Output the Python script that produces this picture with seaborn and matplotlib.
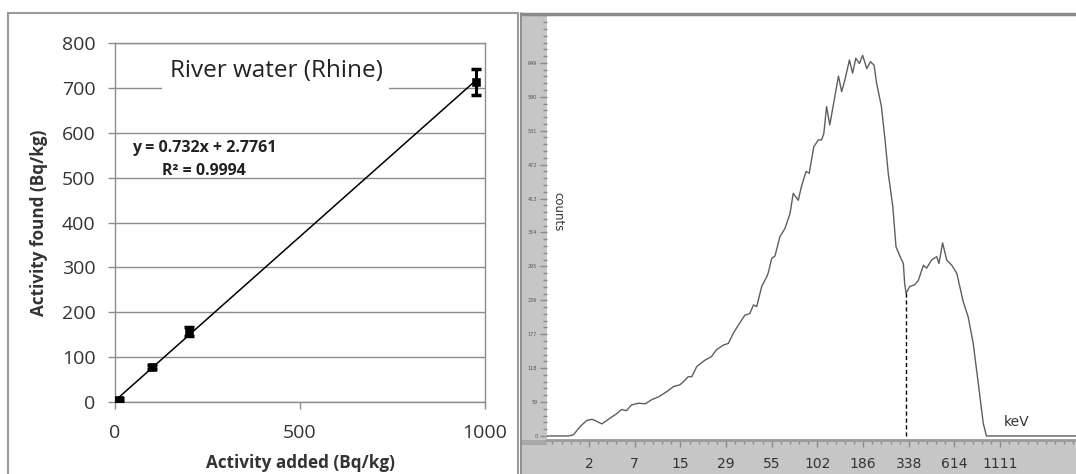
import matplotlib
matplotlib.use("Agg")
import matplotlib.pyplot as plt
import seaborn as sns
import pandas as pd
from matplotlib.patches import Rectangle
from matplotlib.lines import Line2D
from matplotlib.ticker import MultipleLocator, FixedLocator

# ---- left panel: standard addition
ADDED = [10, 100, 200, 977]
FOUND = [5, 78, 158, 713]
FOUND_ERR = [3, 4, 10, 29]
SLOPE = 0.732
INTERCEPT = 2.7761
FIT_X = [0, 977]
LEFT_TITLE = "River water (Rhine)"
EQ_TEXT = "y = 0.732x + 2.7761\nR² = 0.9994"

# ---- right panel: spectrum (x in tick-index units, ticks 0..9)
KEV_LABELS = ["2", "7", "15", "29", "55", "102", "186", "338", "614", "1111"]
COUNT_TICKS = [0, 59, 118, 177, 236, 295, 354, 413, 472, 531, 590, 649]
SPEC_POS = [-0.92, -0.45, -0.34, -0.20, -0.05, 0.06, 0.13, 0.28, 0.46, 0.61, 0.71, 0.82,
            0.93, 1.08, 1.23, 1.37, 1.52, 1.70, 1.85, 1.99, 2.10, 2.17, 2.25, 2.36,
            2.54, 2.68, 2.79, 2.94, 3.05, 3.16, 3.27, 3.41, 3.52, 3.60, 3.67, 3.78,
            3.89, 3.92, 4.00, 4.07, 4.18, 4.29, 4.40, 4.47, 4.58, 4.65, 4.75, 4.82,
            4.92, 5.02, 5.09, 5.14, 5.20, 5.27, 5.38, 5.46, 5.53, 5.60, 5.70, 5.77,
            5.84, 5.92, 5.99, 6.08, 6.16, 6.24, 6.29, 6.40, 6.48, 6.55, 6.65, 6.72,
            6.81, 6.88, 6.91, 6.94, 7.02, 7.13, 7.21, 7.32, 7.39, 7.50, 7.61, 7.66,
            7.74, 7.83, 7.94, 8.05, 8.19, 8.30, 8.41, 8.52, 8.63, 8.70, 10.66]
SPEC_COUNTS = [0, 0, 2, 16, 27, 29, 27, 21, 31, 39, 46, 44,
               54, 57, 56, 63, 68, 77, 86, 89, 97, 103, 103, 121,
               132, 138, 150, 158, 161, 179, 193, 210, 213, 228, 225, 260,
               277, 283, 309, 313, 347, 361, 387, 422, 410, 434, 460, 457,
               503, 515, 515, 526, 573, 541, 590, 626, 599, 619, 654, 631,
               657, 648, 662, 639, 651, 645, 616, 573, 515, 457, 399, 329,
               312, 300, 265, 248, 260, 263, 271, 297, 292, 306, 312, 300,
               336, 306, 297, 283, 234, 207, 161, 92, 22, 0, 0]
CUT_POS = 6.94
CUT_COUNT = 248

W, H = 1076, 474
sns.set_theme(style="white")
plt.rcParams["font.family"] = ["Open Sans", "DejaVu Sans"]

fig = plt.figure(figsize=(W / 100, H / 100), dpi=100)


def px_rect(x0, y0, x1, y1):
    return [x0 / W, 1 - y1 / H, (x1 - x0) / W, (y1 - y0) / H]


def fig_box(x0, y0, x1, y1, **kw):
    fig.patches.append(Rectangle((x0 / W, 1 - y1 / H), (x1 - x0) / W, (y1 - y0) / H,
                                 transform=fig.transFigure, zorder=-1, **kw))


# panel frames and grey strips
fig_box(8, 13, 518, 480, fill=False, edgecolor="#9a9a9a", lw=1.5)
fig_box(522, 14, 547, 474, facecolor="#c6c6c6", edgecolor="none")
fig_box(522, 440, W, 474, facecolor="#c6c6c6", edgecolor="none")
fig_box(522, 440, 547, 445, facecolor="#a8a8a8", edgecolor="none")
fig.lines.append(Line2D([521 / W, 521 / W], [0, 1 - 13 / H], transform=fig.transFigure,
                        color="#7a7a7a", lw=1.2))
fig.lines.append(Line2D([521 / W, 1], [1 - 14 / H, 1 - 14 / H], transform=fig.transFigure,
                        color="#8a8a8a", lw=2.5))

# ---- left chart
ax = fig.add_axes(px_rect(115, 43, 485, 402))
ax.set_xlim(0, 1000)
ax.set_ylim(0, 800)
ax.yaxis.set_major_locator(MultipleLocator(100))
ax.xaxis.set_major_locator(MultipleLocator(500))
ax.grid(axis="y", color="#8c8c8c", lw=1.0)
ax.set_axisbelow(True)
for s in ax.spines.values():
    s.set_visible(True)
    s.set_color("#8c8c8c")
    s.set_linewidth(1.0)
ax.tick_params(axis="both", direction="out", length=5, width=1.0, color="#8c8c8c",
               labelsize=14, labelcolor="#333333", bottom=True, left=True)
ax.tick_params(axis="y", pad=9)
ax.tick_params(axis="x", pad=11)

fit_df = pd.DataFrame({"x": FIT_X, "y": [SLOPE * v + INTERCEPT for v in FIT_X]})
sns.lineplot(data=fit_df, x="x", y="y", ax=ax, color="black", lw=1.1)
ax.errorbar(ADDED, FOUND, yerr=FOUND_ERR, fmt="none", ecolor="black", elinewidth=2.2,
            capsize=3.5, capthick=2.5, zorder=4)
pts = pd.DataFrame({"added": ADDED, "found": FOUND})
sns.scatterplot(data=pts, x="added", y="found", ax=ax, marker="s", s=28, color="black",
                edgecolor="black", zorder=5)
ax.text(435, 738, LEFT_TITLE, ha="center", va="center", fontsize=17.5, color="#222222",
        bbox=dict(facecolor="white", edgecolor="none", pad=5), zorder=3)
ax.text(240, 541, EQ_TEXT, ha="center", va="center", fontsize=11.5, fontweight="bold",
        color="#222222", linespacing=1.55, zorder=3)
ax.set_xlabel("Activity added (Bq/kg)", fontsize=12.3, fontweight="bold", color="#333333",
              labelpad=8.5)
ax.set_ylabel("Activity found (Bq/kg)", fontsize=12.3, fontweight="bold", color="#333333",
              labelpad=10)

# ---- right chart: spectrum
bx = fig.add_axes(px_rect(547, 14, W, 440))
bx.set_facecolor("white")
spec = pd.DataFrame({"pos": SPEC_POS, "counts": SPEC_COUNTS})
sns.lineplot(data=spec, x="pos", y="counts", ax=bx, color="#5e5e5e", lw=1.0,
             sort=False, estimator=None)
bx.plot([CUT_POS, CUT_POS], [0, CUT_COUNT], color="black", lw=1.0, ls=(0, (3, 2)))
bx.set_xlim(-0.92, 10.66)
bx.set_ylim(-7, 734)
bx.xaxis.set_major_locator(FixedLocator(range(len(KEV_LABELS))))
bx.set_xticklabels(KEV_LABELS)
bx.xaxis.set_minor_locator(MultipleLocator(0.2))
bx.yaxis.set_major_locator(FixedLocator(COUNT_TICKS))
bx.yaxis.set_minor_locator(MultipleLocator(59 / 5))
for s in bx.spines.values():
    s.set_visible(False)
bx.spines["bottom"].set_visible(True)
bx.spines["bottom"].set_color("#9a9a9a")
bx.spines["bottom"].set_linewidth(2)
bx.tick_params(axis="x", which="major", direction="out", length=5, width=1, color="#8a8a8a",
               labelsize=10, labelcolor="#333333", pad=7, bottom=True)
bx.tick_params(axis="x", which="minor", direction="out", length=3, width=1, color="#8a8a8a",
               bottom=True)
bx.tick_params(axis="y", which="major", direction="out", length=5, width=1, color="#8a8a8a",
               labelsize=3.5, labelcolor="#555555", pad=2, left=True)
bx.tick_params(axis="y", which="minor", direction="out", length=3, width=1, color="#8a8a8a",
               left=True)
for lab in bx.get_xticklabels() + bx.get_yticklabels():
    lab.set_family(["DejaVu Sans"])
bx.set_xlabel("")
bx.set_ylabel("")
bx.text(11 / 529, 0.535, "counts", transform=bx.transAxes, rotation=270, ha="center",
        va="center", fontsize=8.5, color="#333333", family=["DejaVu Sans"])
bx.text(9.35, 25, "keV", ha="center", va="center", fontsize=10, color="#333333",
        family=["DejaVu Sans"])

fig.savefig("out.png", dpi=100)
